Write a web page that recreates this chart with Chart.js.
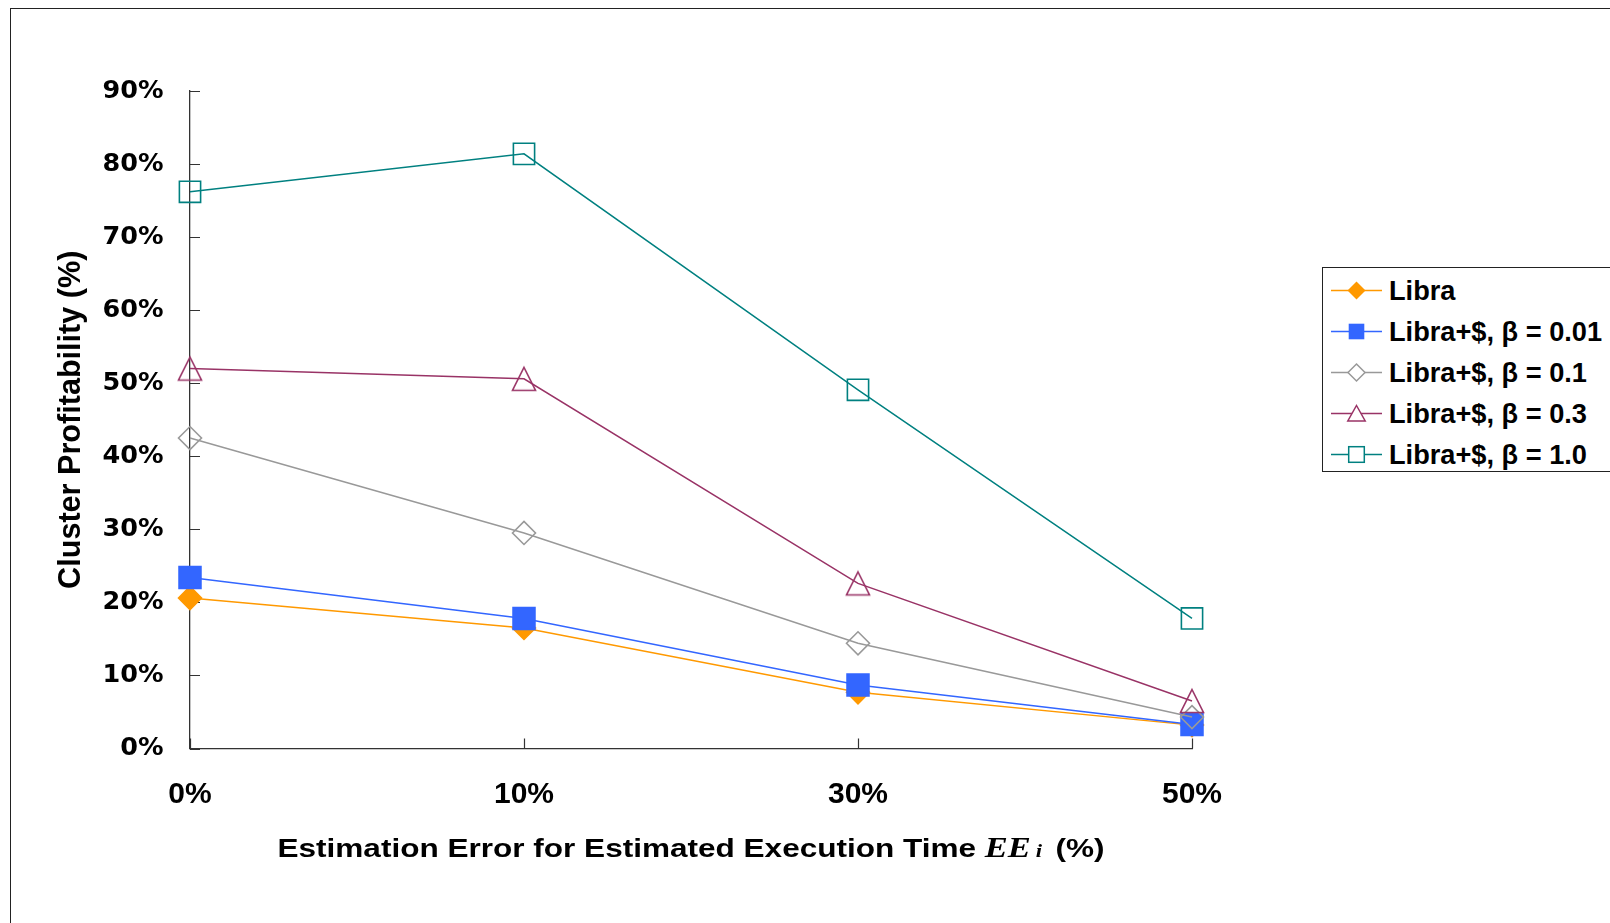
<!DOCTYPE html>
<html>
<head>
<title>Cluster Profitability</title>
<script src="https://cdn.jsdelivr.net/npm/chart.js@4.4.1/dist/chart.umd.min.js"></script>
<style>
  body {margin: 0; background: #fff; font-family: "Liberation Sans", Arial, sans-serif;}
  #wrap {position: relative; width: 1610px; height: 923px; overflow: hidden;}
  #frame {position: absolute; left: 10px; top: 8px; width: 1700px; height: 1000px;
          border-left: 1px solid #222; border-top: 1px solid #222;}
  canvas {position: absolute; left: 0; top: 0;}
  #xtitle {position: absolute; left: 190px; width: 1002px; top: 834px; text-align: center;
           font-weight: bold; font-size: 26.5px; line-height: 27px; white-space: nowrap;
           transform: scaleX(1.19); transform-origin: 50% 50%; color: #000;}
  #xtitle .ee {font-family: "Liberation Serif", "Times New Roman", serif; font-style: italic; font-size: 29px; margin-right: 4px;}
  #xtitle .ee span {font-size: 19px; margin-left: 4px;}
  #legend {position: absolute; left: 1322px; top: 267px; width: 400px; height: 201px;
           border: 1.5px solid #222; background: #fff; padding-top: 2px;}
  .row {display: flex; align-items: center; height: 41px;}
  .row svg {margin-left: 8px; flex: none;}
  .row span {margin-left: 6px; font-weight: bold; font-size: 27.2px; color: #000; white-space: nowrap;}
</style>
</head>
<body>
<div id="wrap">
  <div id="frame"></div>
  <canvas id="myChart" width="1610" height="923"></canvas>
  <div id="xtitle">Estimation Error for Estimated Execution Time <span class="ee">EE<span>i</span></span> (%)</div>
  <div id="legend"></div>
</div>
<script>
// estimation error categories (x axis)
const categories = ['0%', '10%', '30%', '50%'];
const seriesNames = ['Libra', 'Libra+$, β = 0.01', 'Libra+$, β = 0.1', 'Libra+$, β = 0.3', 'Libra+$, β = 1.0'];

// cluster profitability, in %
const libra   = [20.6, 16.5, 7.7, 3.2];
const beta001 = [23.4, 17.8, 8.7, 3.3];
const beta01  = [42.5, 29.5, 14.4, 4.3];
const beta03  = [52.0, 50.6, 22.6, 6.5];
const beta10  = [76.2, 81.4, 49.1, 17.8];

const yMax = 90;
const yStep = 10;

// hollow triangle centred on its box (chart.js' own triangle sits high)
function triangleMark(size, color) {
  const c = document.createElement('canvas');
  c.width = size + 5; c.height = size + 5;
  const g = c.getContext('2d');
  g.strokeStyle = color;
  g.lineWidth = 1.6;
  g.beginPath();
  g.moveTo(c.width / 2, (c.height - size) / 2);
  g.lineTo(c.width / 2 + size / 2, (c.height + size) / 2);
  g.lineTo(c.width / 2 - size / 2, (c.height + size) / 2);
  g.closePath();
  g.stroke();
  return c;
}

// little tick marks pointing into the plot
const inwardTicks = {
  id: 'inwardTicks',
  beforeDatasetsDraw(chart) {
    const ctx = chart.ctx, area = chart.chartArea;
    const xs = chart.scales.x, ys = chart.scales.y;
    ctx.save();
    ctx.strokeStyle = '#333';
    ctx.lineWidth = 1.2;
    ctx.beginPath();
    ys.ticks.forEach(t => {
      const y = Math.round(ys.getPixelForValue(t.value)) + 0.5;
      ctx.moveTo(area.left, y);
      ctx.lineTo(area.left + 10, y);
    });
    xs.ticks.forEach((t, i) => {
      const x = Math.round(xs.getPixelForTick(i)) + 0.5;
      ctx.moveTo(x, area.bottom);
      ctx.lineTo(x, area.bottom - 10);
    });
    ctx.stroke();
    ctx.restore();
  }
};

const ctx = document.getElementById('myChart');
const chart = new Chart(ctx, {
  type: 'line',
  data: {
    labels: categories,
    datasets: [
      {label: seriesNames[0], data: libra, borderColor: '#FF9900', backgroundColor: '#FF9900',
       pointStyle: 'rectRot', pointRadius: 11.5, order: 5},
      {label: seriesNames[1], data: beta001, borderColor: '#3366FF', backgroundColor: '#3366FF',
       pointStyle: 'rect', pointRadius: 15.5, order: 4},
      {label: seriesNames[2], data: beta01, borderColor: '#999999', backgroundColor: 'rgba(0,0,0,0)',
       pointStyle: 'rectRot', pointRadius: 11.5, order: 3},
      {label: seriesNames[3], data: beta03, borderColor: '#993366', backgroundColor: 'rgba(0,0,0,0)',
       pointStyle: triangleMark(23, '#993366'), pointRadius: 12, order: 2, marker: 'triangle'},
      {label: seriesNames[4], data: beta10, borderColor: '#008080', backgroundColor: 'rgba(0,0,0,0)',
       pointStyle: 'rect', pointRadius: 15, order: 1}
    ]
  },
  options: {
    responsive: false,
    animation: false,
    events: [],
    layout: {padding: {top: 91, right: 418, bottom: 0, left: 0}},
    elements: {
      line: {borderWidth: 1.5, tension: 0, fill: false},
      point: {borderWidth: 1.6, hoverRadius: 0}
    },
    plugins: {legend: {display: false}, tooltip: {enabled: false}},
    scales: {
      x: {
        offset: false,
        grid: {display: false, drawTicks: false},
        border: {display: true, color: '#333', width: 1.3},
        ticks: {color: '#000', padding: 28, maxRotation: 0,
                font: {family: '"Liberation Sans", Arial, sans-serif', size: 30, weight: 'bold'}},
        afterFit: s => { s.height = 174.5; }
      },
      y: {
        min: 0, max: yMax,
        grid: {display: false, drawTicks: false},
        border: {display: true, color: '#333', width: 1.3},
        ticks: {stepSize: yStep, color: '#000', padding: 26.5, callback: v => v + '%',
                font: {family: '"DejaVu Sans", sans-serif', size: 25.5, weight: 'bold'}},
        title: {display: true, text: 'Cluster Profitability (%)', color: '#000',
                padding: {top: 53.6, bottom: 0},
                font: {family: '"Liberation Sans", Arial, sans-serif', size: 30.6, weight: 'bold'}},
        afterFit: s => { s.width = 190; }
      }
    }
  },
  plugins: [inwardTicks]
});

// legend box, built from the datasets
function markerSvg(ds) {
  const cx = 25.5, cy = 20.5, col = ds.borderColor;
  const filled = ds.backgroundColor !== 'rgba(0,0,0,0)';
  const fill = filled ? col : '#fff';
  let shape = '';
  if (ds.marker === 'triangle') {
    shape = `<polygon points="${cx},${cy - 8} ${cx + 8.7},${cy + 7.5} ${cx - 8.7},${cy + 7.5}" fill="${fill}" stroke="${col}" stroke-width="1.5"/>`;
  } else if (ds.pointStyle === 'rect') {
    shape = `<rect x="${cx - 7.8}" y="${cy - 7.8}" width="15.6" height="15.6" fill="${fill}" stroke="${col}" stroke-width="${filled ? 0 : 1.5}"/>`;
  } else {
    const r = filled ? 9 : 8.5;
    shape = `<polygon points="${cx},${cy - r} ${cx + r},${cy} ${cx},${cy + r} ${cx - r},${cy}" fill="${fill}" stroke="${col}" stroke-width="${filled ? 0 : 1.5}"/>`;
  }
  return `<svg width="52" height="41" viewBox="0 0 52 41"><line x1="0" y1="${cy}" x2="51" y2="${cy}" stroke="${col}" stroke-width="1.5"/>${shape}</svg>`;
}

const legendBox = document.getElementById('legend');
chart.data.datasets.forEach(ds => {
  const row = document.createElement('div');
  row.className = 'row';
  row.innerHTML = markerSvg(ds) + '<span>' + ds.label + '</span>';
  legendBox.appendChild(row);
});
</script>
</body>
</html>
